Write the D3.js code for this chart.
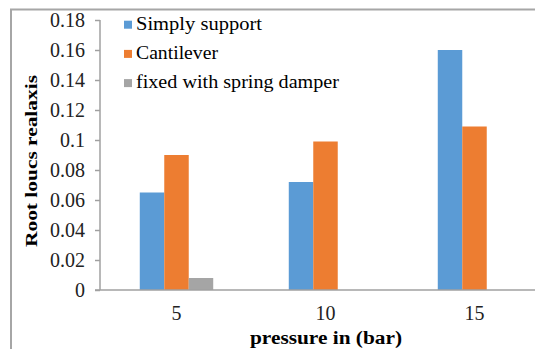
<!DOCTYPE html>
<html>
<head>
<meta charset="utf-8">
<script src="https://cdn.jsdelivr.net/npm/d3@7"></script>
<style>
  html, body { margin: 0; padding: 0; background: #fff; }
  svg { display: block; }
</style>
</head>
<body>
<svg id="chart" width="535" height="349"></svg>
<script>
const categories = ["5", "10", "15"];
const seriesNames = ["Simply support", "Cantilever", "fixed with spring damper"];
const simplySupport = [0.065, 0.072, 0.160];
const cantilever = [0.090, 0.099, 0.109];
const fixedSpringDamper = [0.008, 0, 0];
const yTicks = [0, 0.02, 0.04, 0.06, 0.08, 0.1, 0.12, 0.14, 0.16, 0.18];
const colors = ["#5b9bd5", "#ed7d31", "#a5a5a5"];
const seriesValues = [simplySupport, cantilever, fixedSpringDamper];
const legendWidths = [126, 82, 203];

const SERIF = "'Liberation Serif', 'Times New Roman', Times, serif";
const svg = d3.select("#chart");

// outer chart border
svg.append("rect").attr("x", 11).attr("y", 9.5).attr("width", 560).attr("height", 360)
  .attr("fill", "none").attr("stroke", "#a6a6a6").attr("stroke-width", 2);

const x0 = d3.scaleBand().domain(categories).range([102, 549])
  .paddingInner(0.507).paddingOuter(0.2535);
const x1 = d3.scaleBand().domain(seriesNames).range([0, x0.bandwidth()]);
const y = d3.scaleLinear().domain([0, 0.18]).range([290, 20]);

// bars
const rows = categories.map((c, i) => ({ cat: c, vals: seriesNames.map((s, j) => ({ s, v: seriesValues[j][i], j })) }));
const g = svg.append("g");
g.selectAll("g.grp").data(rows).join("g").attr("class", "grp")
  .attr("transform", d => `translate(${x0(d.cat)},0)`)
  .selectAll("rect").data(d => d.vals.filter(v => v.v > 0)).join("rect")
  .attr("x", d => x1(d.s)).attr("width", x1.bandwidth())
  .attr("y", d => y(d.v)).attr("height", d => y(0) - y(d.v))
  .attr("fill", d => colors[d.j]);

// y axis
const yAxis = d3.axisLeft(y).tickValues(yTicks).tickSize(5).tickPadding(10)
  .tickFormat(d => d3.format("")(+d.toFixed(2)));
const ya = svg.append("g").attr("transform", "translate(100,0)").call(yAxis);
ya.attr("font-family", null).attr("font-size", null);
ya.select(".domain").attr("stroke", "#a0a0a0").attr("stroke-width", 1.5).attr("d", "M0,20V290");
ya.selectAll(".tick line").attr("stroke", "#a0a0a0").attr("stroke-width", 1.5);
ya.selectAll(".tick text").style("font-family", SERIF).style("font-size", "20px").attr("fill", "#222")
  .attr("dy", "0.34em");

// x axis
const xAxis = d3.axisBottom(x0).tickSize(0).tickPadding(16);
const xa = svg.append("g").attr("transform", "translate(0,290)").call(xAxis);
xa.attr("font-family", null).attr("font-size", null);
xa.select(".domain").attr("stroke", "#a0a0a0").attr("stroke-width", 1.5).attr("d", "M95,0H535");
xa.selectAll(".tick text").style("font-family", SERIF).style("font-size", "20px").attr("fill", "#222");

// axis titles
svg.append("text").attr("x", 326).attr("y", 344).attr("text-anchor", "middle")
  .style("font-family", SERIF).style("font-size", "18px").style("font-weight", "bold")
  .attr("textLength", 152).attr("lengthAdjust", "spacingAndGlyphs")
  .text("pressure in (bar)");
svg.append("text").attr("transform", "translate(37,161) rotate(-90)").attr("text-anchor", "middle")
  .style("font-family", SERIF).style("font-size", "17px").style("font-weight", "bold")
  .attr("textLength", 172).attr("lengthAdjust", "spacingAndGlyphs")
  .text("Root loucs realaxis");

// legend
const leg = svg.append("g");
seriesNames.forEach((s, i) => {
  const cy = 24.7 + i * 29.2;
  leg.append("rect").attr("x", 124).attr("y", cy - 4).attr("width", 8).attr("height", 8).attr("fill", colors[i]);
  leg.append("text").attr("x", 136).attr("y", cy + 5)
    .style("font-family", SERIF).style("font-size", "18px")
    .attr("textLength", legendWidths[i]).attr("lengthAdjust", "spacingAndGlyphs")
    .text(s);
});
</script>
</body>
</html>
